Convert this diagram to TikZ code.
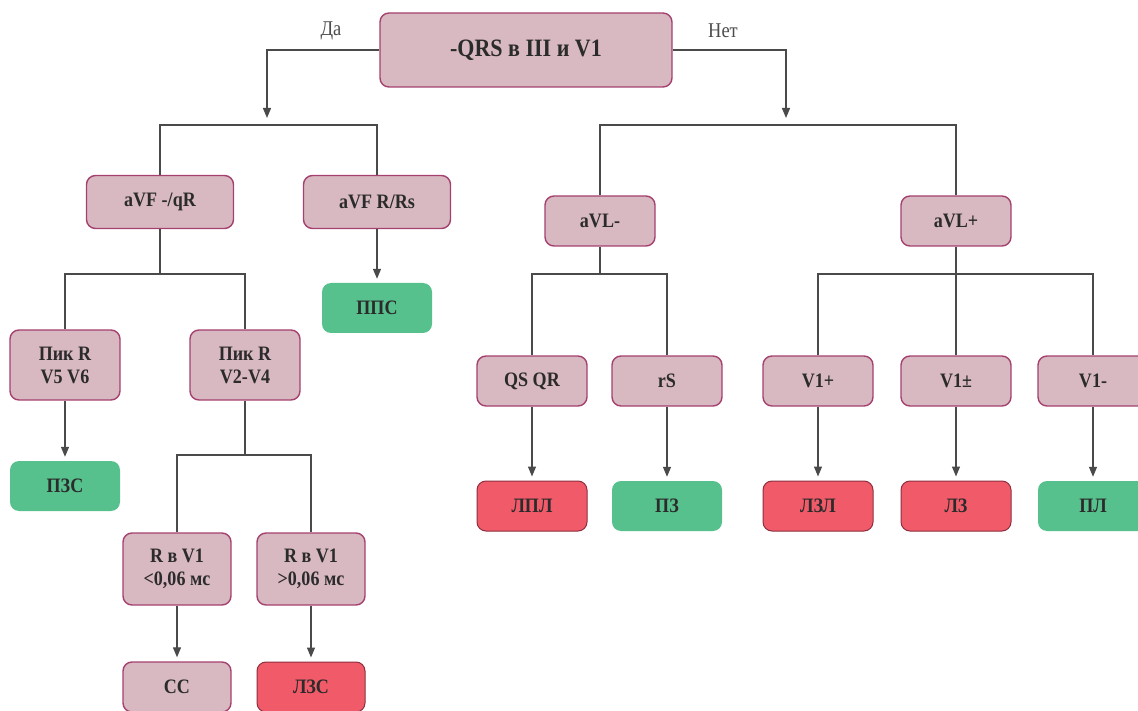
\documentclass[tikz,border=0pt]{standalone}
\usepackage{fontspec}
\setmainfont{Liberation Serif}[FakeStretch=0.88]
\usetikzlibrary{arrows.meta}
\definecolor{pinkfill}{HTML}{D8B8C1}
\definecolor{pinkline}{HTML}{A5416F}
\definecolor{greenfill}{HTML}{57C18E}
\definecolor{redfill}{HTML}{F15B69}
\definecolor{redline}{HTML}{8E2E3E}
\definecolor{linec}{HTML}{4A4A4A}
\definecolor{txt}{HTML}{2B2B2B}
\begin{document}
\begin{tikzpicture}[x=1pt,y=-1pt,
  box/.style={rounded corners=9pt, minimum width=110pt, minimum height=50pt, inner sep=0pt, align=center, font=\bfseries\fontsize{20.5}{23}\selectfont, text=txt},
  cond/.style={box, fill=pinkfill, draw=pinkline, line width=1.4pt},
  good/.style={box, fill=greenfill},
  bad/.style={box, fill=redfill, draw=redline, line width=1pt},
  conn/.style={draw=linec, line width=1.3pt},
  arr/.style={conn, -{Triangle[length=10pt,width=8pt]}, shorten >=4pt},
  lbl/.style={font=\fontsize{21}{24}\selectfont, text=black!70}]
\useasboundingbox (0,0) rectangle (1138,711);
\clip (0,0) rectangle (1138,711);
% top
\node[cond, minimum width=292pt, minimum height=74pt, font=\bfseries\fontsize{25}{30}\selectfont] (root) at (526,50) {-QRS в III и V1};
\node[lbl] (da) at (331,31) {Да};
\node[lbl] (net) at (723,31) {Нет};
\coordinate (aL) at (267,122);
\coordinate (aR) at (786,122);
\coordinate (busL) at (267,125);
\coordinate (busR) at (786,125);
% left branch
\node[cond, minimum width=147pt, minimum height=53pt] (avf1) at (160,202) {aVF -/qR};
\node[cond, minimum width=147pt, minimum height=53pt] (avf2) at (377,202) {aVF R/Rs};
\node[good] (pps) at (377,308) {ППС};
\node[cond, minimum height=70pt] (pik1) at (65,365) {Пик R\\V5 V6};
\node[cond, minimum height=70pt] (pik2) at (245,365) {Пик R\\V2-V4};
\node[good] (pzs) at (65,486) {ПЗС};
\node[cond, minimum width=108pt, minimum height=72pt] (rv1) at (177,569) {R в V1\\<0,06 мс};
\node[cond, minimum width=108pt, minimum height=72pt] (rv2) at (311,569) {R в V1\\>0,06 мс};
\node[cond, minimum width=108pt] (ss) at (177,687) {СС};
\node[bad, minimum width=108pt] (lzs) at (311,687) {ЛЗС};
% right branch
\node[cond] (avl1) at (600,221) {aVL-};
\node[cond] (avl2) at (956,221) {aVL+};
\node[cond] (qs) at (532,381) {QS QR};
\node[cond] (rs) at (667,381) {rS};
\node[cond] (v1p) at (818,381) {V1+};
\node[cond] (v1pm) at (956,381) {V1±};
\node[cond] (v1m) at (1093,381) {V1-};
\node[bad] (lpl) at (532,506) {ЛПЛ};
\node[good] (pz) at (667,506) {ПЗ};
\node[bad] (lzl) at (818,506) {ЛЗЛ};
\node[bad] (lz) at (956,506) {ЛЗ};
\node[good] (pl) at (1093,506) {ПЛ};
% bus coordinates
\coordinate (b2) at (160,274);
\coordinate (b3) at (245,455);
\coordinate (b4) at (600,274);
\coordinate (b5) at (956,274);
% connectors
\draw[arr] (root.west) -| (aL);
\draw[arr] (root.east) -| (aR);
\draw[conn] (avf1.north) |- (busL) -| (avf2.north);
\draw[conn] (avl1.north) |- (busR) -| (avl2.north);
\draw[arr] (avf2.south) -- (pps.north);
\draw[conn] (avf1.south) -- (b2);
\draw[conn] (pik1.north) |- (b2) -| (pik2.north);
\draw[arr] (pik1.south) -- (pzs.north);
\draw[conn] (pik2.south) -- (b3);
\draw[conn] (rv1.north) |- (b3) -| (rv2.north);
\draw[arr] (rv1.south) -- (ss.north);
\draw[arr] (rv2.south) -- (lzs.north);
\draw[conn] (avl1.south) -- (b4);
\draw[conn] (qs.north) |- (b4) -| (rs.north);
\draw[conn] (avl2.south) -- (v1pm.north);
\draw[conn] (v1p.north) |- (b5) -| (v1m.north);
\draw[arr] (qs.south) -- (lpl.north);
\draw[arr] (rs.south) -- (pz.north);
\draw[arr] (v1p.south) -- (lzl.north);
\draw[arr] (v1pm.south) -- (lz.north);
\draw[arr] (v1m.south) -- (pl.north);
\end{tikzpicture}
\end{document}
